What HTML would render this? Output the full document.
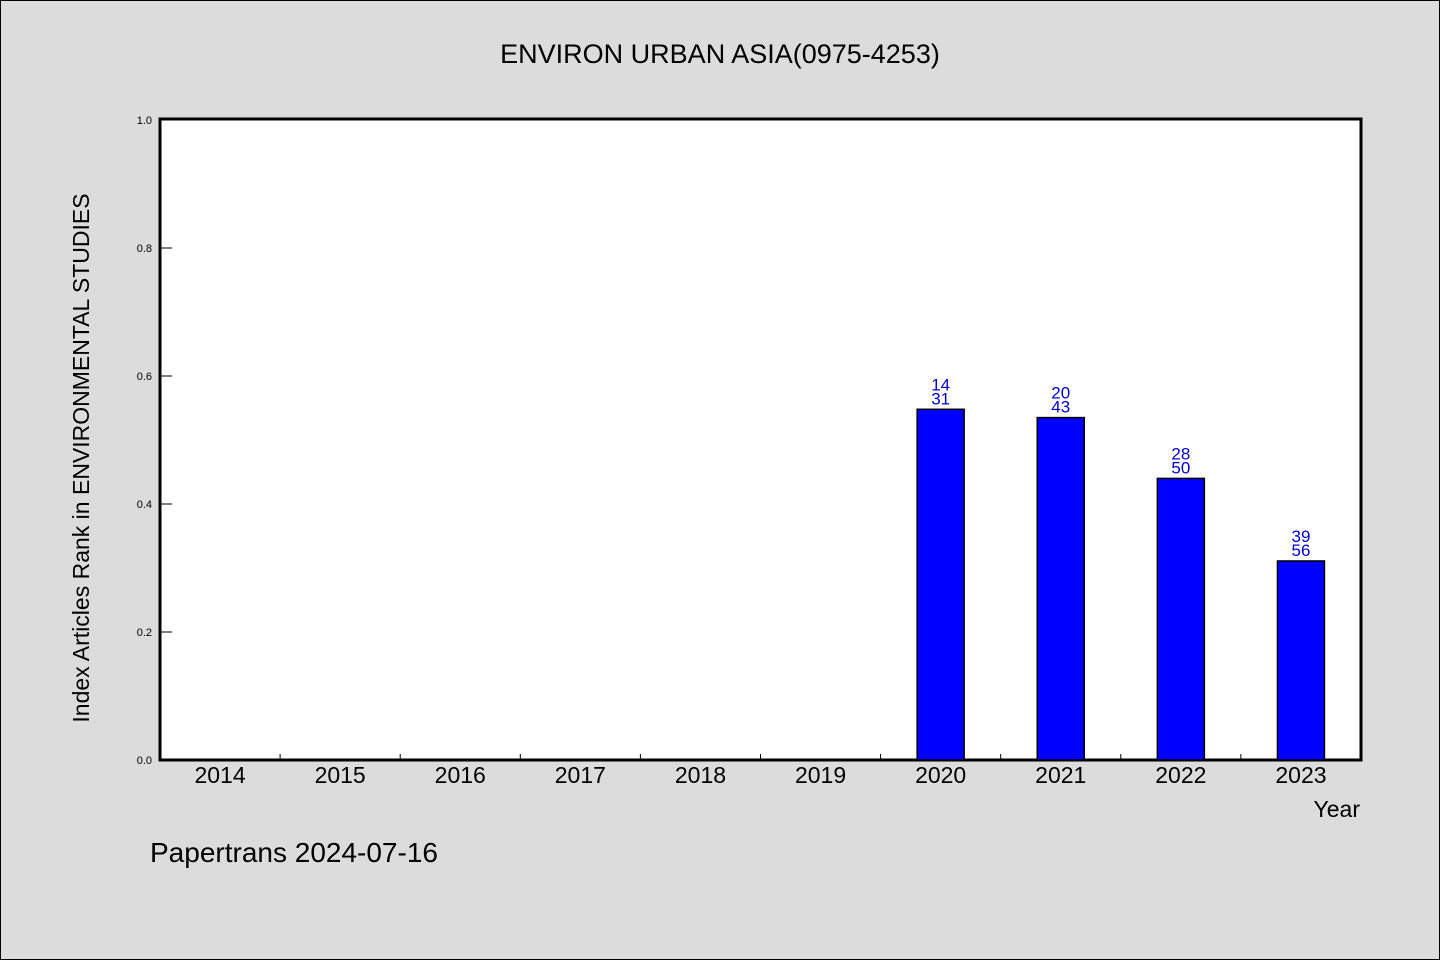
<!DOCTYPE html>
<html><head><meta charset="utf-8"><style>
body{margin:0;background:#dcdcdc;}
svg{display:block;font-family:"WenQuanYi Zen Hei","Liberation Sans",sans-serif;}
</style></head><body>
<svg id="chart" width="1440" height="960">
<rect x="0.5" y="0.5" width="1439" height="959" fill="#dcdcdc" stroke="#000"/>
<text x="720" y="63" font-size="27" text-anchor="middle">ENVIRON URBAN ASIA(0975-4253)</text>
<rect x="160" y="119" width="1201" height="641" fill="#fff" stroke="#000" stroke-width="3"/>
<g id="yaxis"></g><g id="xaxis"></g><g id="bars"></g>
<text transform="translate(89,458) rotate(-90)" font-size="23" text-anchor="middle">Index Articles Rank in ENVIRONMENTAL STUDIES</text>
<text x="1360" y="817" font-size="23" text-anchor="end">Year</text>
<text x="150" y="862" font-size="28">Papertrans 2024-07-16</text>
</svg>
<script>
const categories=["2014","2015","2016","2017","2018","2019","2020","2021","2022","2023"];
const values=[null,null,null,null,null,null,0.548,0.535,0.44,0.311];
const ranks=[null,null,null,null,null,null,14,20,28,39];
const totals=[null,null,null,null,null,null,31,43,50,56];
const yTicks=["0.0","0.2","0.4","0.6","0.8","1.0"];
const ns="http://www.w3.org/2000/svg";
const x0=160,x1=1361,y0=760,y1=120;
const bw=(x1-x0)/categories.length;
const y=v=>y0-(v)*(y0-y1);
const xc=i=>x0+bw*(i+0.5);
function mk(t,a,p,txt){const e=document.createElementNS(ns,t);for(const k in a)e.setAttribute(k,a[k]);if(txt!=null)e.textContent=txt;p.appendChild(e);return e;}
const ya=document.getElementById('yaxis'),xa=document.getElementById('xaxis'),bg=document.getElementById('bars');
yTicks.forEach(t=>{const v=parseFloat(t),yy=y(v);
 const l=mk('line',{x1:x0,x2:x0+12,y1:yy,y2:yy,stroke:'#000'},ya);
 
 
 const tx=mk('text',{x:152,y:yy+4,'font-size':11,'text-anchor':'end'},ya,t);
 
 
});
categories.forEach((c,i)=>{
 if(i>0){const l=mk('line',{x1:x0+bw*i,x2:x0+bw*i,y1:y0,y2:y0-6,stroke:'#000'},xa);
 
 }
 const tx=mk('text',{x:xc(i),y:783,'font-size':23,'text-anchor':'middle'},xa,c);
 
 
 if(values[i]!=null){
  const top=y(values[i]);
  const r=mk('rect',{x:xc(i)-23.5,y:top,width:47,height:y0-top,fill:'#0000ff',stroke:'#000','stroke-width':1.5},bg);
  
  
  const a=mk('text',{x:xc(i),y:top-19,'font-size':17,'text-anchor':'middle',fill:'#0000cc'},bg,ranks[i]);
  
  
  const b=mk('text',{x:xc(i),y:top-5,'font-size':17,'text-anchor':'middle',fill:'#0000cc'},bg,totals[i]);
  
  
 }
});
</script>
</body></html>
